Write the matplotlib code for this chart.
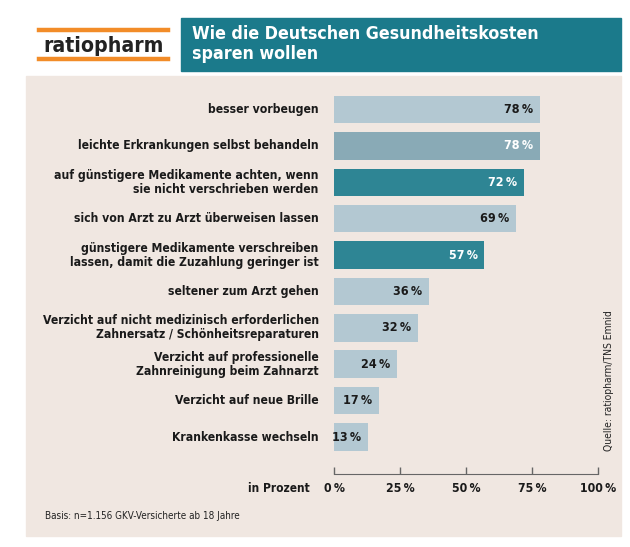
import matplotlib
matplotlib.use("Agg")
import matplotlib.pyplot as plt
import matplotlib.transforms as mtransforms
from matplotlib.patches import Rectangle
from matplotlib.lines import Line2D

# -------------------------------
# Data
# -------------------------------
categories = [
    "besser vorbeugen",
    "leichte Erkrankungen selbst behandeln",
    "auf günstigere Medikamente achten, wenn\nsie nicht verschrieben werden",
    "sich von Arzt zu Arzt überweisen lassen",
    "günstigere Medikamente verschreiben\nlassen, damit die Zuzahlung geringer ist",
    "seltener zum Arzt gehen",
    "Verzicht auf nicht medizinisch erforderlichen\nZahnersatz / Schönheitsreparaturen",
    "Verzicht auf professionelle\nZahnreinigung beim Zahnarzt",
    "Verzicht auf neue Brille",
    "Krankenkasse wechseln",
]
values = [78, 78, 72, 69, 57, 36, 32, 24, 17, 13]
x_ticks = [0, 25, 50, 75, 100]
x_tick_labels = ["0\u2009%", "25\u2009%", "50\u2009%", "75\u2009%", "100\u2009%"]

# colours
LIGHT = "#b3c8d2"
MID = "#89aab6"
TEAL = "#2e8594"
HEADER = "#1b7a8b"
PANEL = "#f0e7e1"
ORANGE = "#f28c28"
bar_colors = [LIGHT, MID, TEAL, LIGHT, TEAL, LIGHT, LIGHT, LIGHT, LIGHT, LIGHT]
label_colors = ["#1a1a1a", "white", "white", "#1a1a1a", "white",
                "#1a1a1a", "#1a1a1a", "#1a1a1a", "#1a1a1a", "#1a1a1a"]

plt.rcParams['font.family'] = ['DejaVu Sans']
plt.rcParams['font.stretch'] = 'condensed'

W, H = 630, 547
fig = plt.figure(figsize=(W / 100, H / 100), dpi=100)


def fx(px):
    return px / W


def fy(py):
    return 1 - py / H


# -------------------------------
# Header + panel
# -------------------------------
fig.patches.append(Rectangle((fx(26), fy(536)), fx(621) - fx(26), fy(76) - fy(536),
                             transform=fig.transFigure, color=PANEL, zorder=-2))
fig.patches.append(Rectangle((fx(181), fy(71)), fx(621) - fx(181), fy(18) - fy(71),
                             transform=fig.transFigure, color=HEADER, zorder=-2))
for yy in [30, 59]:
    fig.lines.append(Line2D([fx(39), fx(168)], [fy(yy), fy(yy)], transform=fig.transFigure,
                            color=ORANGE, lw=3.2))
fig.text(fx(104), fy(46), "ratiopharm", ha="center", va="center", fontsize=15.2,
         fontweight="bold", color="#222222")
fig.text(fx(192), fy(44), "Wie die Deutschen Gesundheitskosten\nsparen wollen", ha="left",
         va="center", fontsize=12.8, color="white", fontweight="bold", linespacing=1.1)

# -------------------------------
# Bars
# -------------------------------
ax = fig.add_axes([fx(334), fy(455.2), fx(598) - fx(334), fy(91.3) - fy(455.2)])
ax.set_facecolor("none")
ypos = list(range(len(values)))
ax.barh(ypos, values, height=0.755, color=bar_colors)
ax.set_xlim(0, 100)
ax.set_ylim(len(values) - 0.5, -0.5)

for s in ["top", "right", "left"]:
    ax.spines[s].set_visible(False)
ax.spines["bottom"].set_position(("outward", 13.5))
ax.spines["bottom"].set_color("#666666")
ax.set_yticks([])
ax.set_xticks(x_ticks)
ax.set_xticklabels(x_tick_labels, fontsize=8.8, fontweight="bold", color="#1a1a1a")
ax.tick_params(axis="x", direction="in", length=5, width=1, color="#666666", pad=5.5)

trans = mtransforms.blended_transform_factory(ax.transAxes, ax.transData)
for i, (cat, v) in enumerate(zip(categories, values)):
    ax.annotate(cat, xy=(0, i), xycoords=trans, xytext=(-11, 0), textcoords="offset points",
                ha="right", va="center", fontsize=8.7, fontweight="bold", color="#1a1a1a",
                linespacing=1.1)
    ax.annotate(f"{v}\u2009%", xy=(v, i), xytext=(-5, 0), textcoords="offset points",
                ha="right", va="center", fontsize=9, fontweight="bold", color=label_colors[i])

# -------------------------------
# Footer texts
# -------------------------------
fig.text(fx(310), fy(488), "in Prozent", ha="right", va="center", fontsize=8.6,
         fontweight="bold", color="#1a1a1a")
fig.text(fx(45), fy(516), "Basis: n=1.156 GKV-Versicherte ab 18 Jahre", ha="left",
         va="center", fontsize=7.1, color="#222222")
fig.text(fx(609), fy(381), "Quelle: ratiopharm/TNS Emnid", ha="center", va="center",
         rotation=90, fontsize=7.4, color="#222222")

fig.savefig("out.png", dpi=100, facecolor="white")
